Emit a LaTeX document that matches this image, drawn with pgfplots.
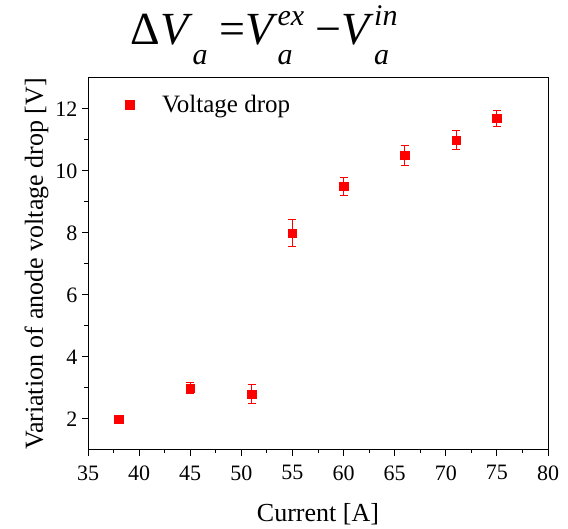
\documentclass[border=0pt]{standalone}
\usepackage{fontspec}
\setmainfont{Liberation Serif}
\usepackage{pgfplots}
\pgfplotsset{compat=1.18}
\newcommand{\subA}{\raisebox{-0.42em}{\fontsize{30}{32}\selectfont\textit{a}}}
\newcommand{\VV}[1]{\textit{V}\rlap{\subA}\raisebox{0.42em}{\fontsize{30}{32}\selectfont\textit{#1}}}
\begin{document}
\begin{tikzpicture}[x=1pt,y=1pt]
\useasboundingbox (0,0) rectangle (568,529);
\node[anchor=center] at (264,494) {\fontsize{46}{50}\selectfont Δ\textit{V}\subA\ =\VV{ex}\ −\VV{in}};
\begin{axis}[
  at={(88pt,79pt)}, anchor=south west, scale only axis,
  width=460pt, height=372pt,
  xmin=35, xmax=80, ymin=1, ymax=13,
  xtick={35,40,...,80}, ytick={2,4,...,12},
  minor x tick num=1, minor y tick num=1,
  tick align=outside, tick pos=left,
  major tick length=6pt, minor tick length=3.5pt,
  every tick/.style={black, line width=1pt},
  axis line style={line width=1pt},
  /pgf/number format/assume math mode=true,
  tick label style={font=\fontsize{22}{24}\selectfont},
  xticklabel style={yshift=-6pt},
  yticklabel style={xshift=-1pt},
  label style={font=\fontsize{26}{28}\selectfont},
  xlabel={Current [A]},
  ylabel={Variation of anode voltage drop [V]},
  xlabel style={yshift=-16pt},
  ylabel style={yshift=0pt},
  legend style={draw=none, fill=none, at={(0.075,0.965)}, anchor=north west, font=\fontsize{25}{28}\selectfont},
  legend cell align=left,
]
\addplot[only marks, mark=square*, mark size=4.2pt, color=red,
  error bars/.cd, y dir=both, y explicit,
  error bar style={red, line width=0.9pt},
  error mark options={rotate=90, mark size=4pt, red, line width=0.9pt}]
  table[x=x, y=y, y error=e] {
x y e
38 2.0 0.1
45 3.0 0.19
51 2.8 0.3
55 8.0 0.45
60 9.5 0.28
66 10.5 0.32
71 11.0 0.3
75 11.7 0.25
};
\addlegendentry{\hspace{26pt}Voltage drop}
\end{axis}
\end{tikzpicture}
\end{document}
